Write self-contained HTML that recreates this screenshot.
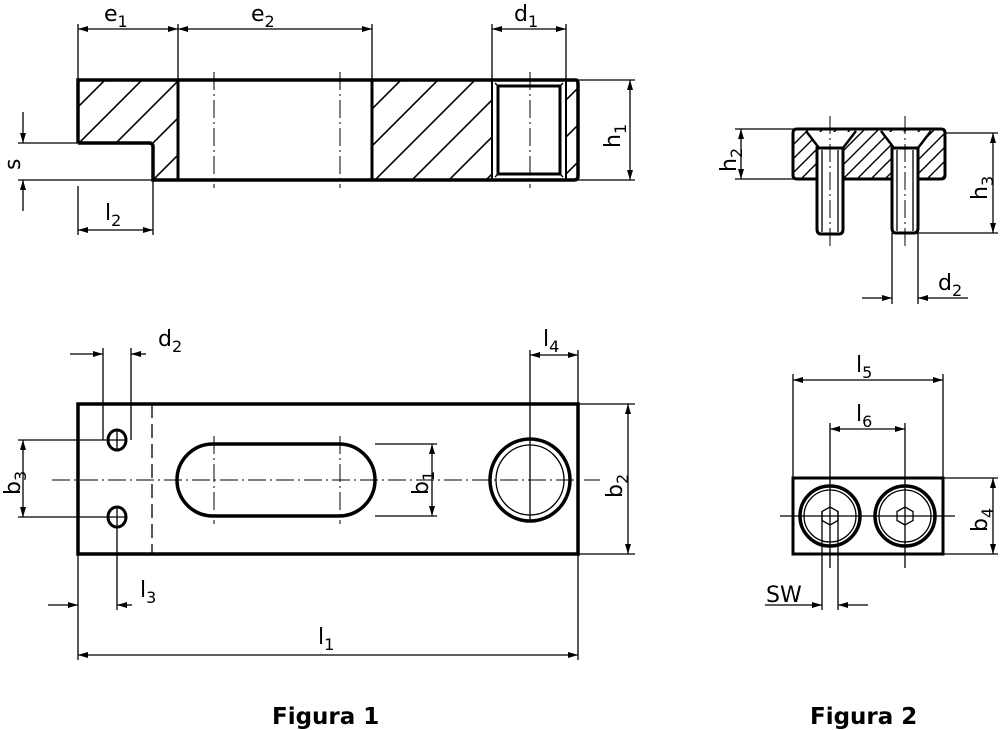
<!DOCTYPE html>
<html><head><meta charset="utf-8"><style>
html,body{margin:0;padding:0;background:#fff}
svg{display:block}
text{font-family:"DejaVu Sans","Liberation Sans",sans-serif;fill:#000}
.t{font-size:22px}
.s{font-size:16px}
</style></head><body>
<svg width="1000" height="730" viewBox="0 0 1000 730" xmlns="http://www.w3.org/2000/svg">
<defs>
<pattern id="h" width="37" height="37" patternUnits="userSpaceOnUse">
<path d="M0,37 L37,0 M-10,10 L10,-10 M27,47 L47,27" stroke="#000" stroke-width="1.6"/>
</pattern>
<pattern id="h2" width="14" height="14" patternUnits="userSpaceOnUse">
<path d="M0,14 L14,0 M-5,5 L5,-5 M9,19 L19,9" stroke="#000" stroke-width="1.4"/>
</pattern>
<marker id="a" viewBox="0 0 10 6" refX="10" refY="3" markerWidth="10" markerHeight="6" orient="auto-start-reverse" markerUnits="userSpaceOnUse"><path d="M0,0 L10,3 L0,6 Z" fill="#000"/></marker>
</defs>
<g fill="none" stroke="#000" stroke-width="1.3">
<path d="M78,80 H178 V180 H153 V143 H78 Z" fill="url(#h)" stroke="none"/>
<rect x="372" y="80" width="120" height="100" fill="url(#h)" stroke="none"/>
<rect x="566" y="80" width="12" height="100" fill="url(#h)" stroke="none"/>
<path d="M78,143 V80 H576 Q578,80 578,84 V176 Q578,180 574,180 H153 V147 Q153,143 149,143 H78" stroke-width="3.5"/>
<line x1="178" y1="80" x2="178" y2="180" stroke-width="3"/>
<line x1="372" y1="80" x2="372" y2="180" stroke-width="3"/>
<line x1="492" y1="80" x2="492" y2="180" stroke-width="2"/>
<line x1="566" y1="80" x2="566" y2="180" stroke-width="2"/>
<rect x="498" y="86" width="62" height="88" stroke-width="3"/>
<line x1="495" y1="83" x2="498" y2="86"/><line x1="563" y1="83" x2="560" y2="86"/>
<line x1="495" y1="177" x2="498" y2="174"/><line x1="563" y1="177" x2="560" y2="174"/>
<g stroke-dasharray="18,4,2,4" stroke-width="1">
<line x1="214" y1="72" x2="214" y2="188"/><line x1="340" y1="72" x2="340" y2="188"/><line x1="530" y1="72" x2="530" y2="188"/>
</g>
<line x1="78" y1="24" x2="78" y2="80"/><line x1="178" y1="24" x2="178" y2="80"/><line x1="372" y1="24" x2="372" y2="80"/>
<line x1="492" y1="24" x2="492" y2="80"/><line x1="566" y1="24" x2="566" y2="80"/>
<line x1="78" y1="29" x2="178" y2="29" marker-start="url(#a)" marker-end="url(#a)"/>
<line x1="178" y1="29" x2="372" y2="29" marker-start="url(#a)" marker-end="url(#a)"/>
<line x1="492" y1="29" x2="566" y2="29" marker-start="url(#a)" marker-end="url(#a)"/>
<line x1="578" y1="80" x2="635" y2="80"/><line x1="578" y1="180" x2="635" y2="180"/>
<line x1="630" y1="80" x2="630" y2="180" marker-start="url(#a)" marker-end="url(#a)"/>
<line x1="18" y1="143" x2="78" y2="143"/><line x1="18" y1="180" x2="153" y2="180"/>
<line x1="23" y1="112" x2="23" y2="143" marker-end="url(#a)"/>
<line x1="23" y1="211" x2="23" y2="180" marker-end="url(#a)"/>
<line x1="78" y1="186" x2="78" y2="235"/><line x1="153" y1="180" x2="153" y2="235"/>
<line x1="78" y1="230" x2="153" y2="230" marker-start="url(#a)" marker-end="url(#a)"/>

<path d="M793,129 H945 V179 H793 Z M806,132 L819,148 H843 L856,132 Z M881,132 L894,148 H918 L931,132 Z" fill="url(#h2)" fill-rule="evenodd" stroke="none"/>
<path d="M797,129 H941 Q945,129 945,133 V175 Q945,179 941,179 H797 Q793,179 793,175 V133 Q793,129 797,129 Z" stroke-width="3"/>
<path d="M806,131 L819,148 M856,131 L843,148 M881,131 L894,148 M931,131 L918,148" stroke-width="2.5"/>
<path d="M817,148 V229 Q817,234 821,234 H839 Q843,234 843,229 V148 Z" fill="#fff" stroke-width="3"/>
<path d="M892,148 V228 Q892,233 896,233 H914 Q918,233 918,228 V148 Z" fill="#fff" stroke-width="3"/>
<line x1="822" y1="150" x2="822" y2="232"/><line x1="838" y1="150" x2="838" y2="232"/>
<line x1="897" y1="150" x2="897" y2="231"/><line x1="913" y1="150" x2="913" y2="231"/>
<g stroke-dasharray="18,4,2,4" stroke-width="1">
<line x1="830" y1="116" x2="830" y2="246"/><line x1="905" y1="116" x2="905" y2="246"/>
</g>
<line x1="735" y1="129" x2="793" y2="129"/><line x1="735" y1="179" x2="793" y2="179"/>
<line x1="741" y1="129" x2="741" y2="179" marker-start="url(#a)" marker-end="url(#a)"/>
<line x1="945" y1="133" x2="998" y2="133"/><line x1="918" y1="233" x2="998" y2="233"/>
<line x1="993" y1="133" x2="993" y2="233" marker-start="url(#a)" marker-end="url(#a)"/>
<line x1="892" y1="233" x2="892" y2="304"/><line x1="918" y1="233" x2="918" y2="304"/>
<line x1="862" y1="298" x2="892" y2="298" marker-end="url(#a)"/>
<line x1="968" y1="298" x2="918" y2="298" marker-end="url(#a)"/>

<rect x="78" y="404" width="500" height="150" stroke-width="3.5"/>
<line x1="152" y1="404" x2="152" y2="554" stroke-dasharray="14,6" stroke-width="1.3"/>
<rect x="177" y="444" width="198" height="72" rx="36" ry="36" stroke-width="3.5"/>
<ellipse cx="117" cy="440" rx="9" ry="10" stroke-width="3"/>
<ellipse cx="117" cy="517" rx="9" ry="10" stroke-width="3"/>
<ellipse cx="530" cy="480" rx="40" ry="41" stroke-width="3.5"/>
<ellipse cx="530" cy="480" rx="34" ry="35" stroke-width="1.3"/>
<g stroke-dasharray="18,4,2,4" stroke-width="1">
<line x1="52" y1="480" x2="600" y2="480"/>
<line x1="214" y1="436" x2="214" y2="524"/><line x1="340" y1="436" x2="340" y2="524"/>
</g>
<line x1="108" y1="440" x2="126" y2="440"/><line x1="117" y1="431" x2="117" y2="449"/>
<line x1="108" y1="517" x2="126" y2="517"/><line x1="117" y1="508" x2="117" y2="610"/>
<line x1="530" y1="350" x2="530" y2="520"/>
<line x1="375" y1="444" x2="437" y2="444"/><line x1="375" y1="516" x2="437" y2="516"/>
<line x1="432" y1="444" x2="432" y2="516" marker-start="url(#a)" marker-end="url(#a)"/>
<line x1="578" y1="404" x2="635" y2="404"/><line x1="578" y1="554" x2="635" y2="554"/>
<line x1="628" y1="404" x2="628" y2="554" marker-start="url(#a)" marker-end="url(#a)"/>
<line x1="18" y1="440" x2="108" y2="440"/><line x1="18" y1="517" x2="108" y2="517"/>
<line x1="23" y1="440" x2="23" y2="517" marker-start="url(#a)" marker-end="url(#a)"/>
<line x1="103" y1="348" x2="103" y2="440"/><line x1="131" y1="348" x2="131" y2="440"/>
<line x1="70" y1="354" x2="103" y2="354" marker-end="url(#a)"/>
<line x1="146" y1="354" x2="131" y2="354" marker-end="url(#a)"/>
<line x1="578" y1="350" x2="578" y2="404"/>
<line x1="530" y1="355" x2="578" y2="355" marker-start="url(#a)" marker-end="url(#a)"/>
<line x1="78" y1="554" x2="78" y2="660"/><line x1="578" y1="554" x2="578" y2="660"/>
<line x1="48" y1="605" x2="78" y2="605" marker-end="url(#a)"/>
<line x1="132" y1="605" x2="117" y2="605" marker-end="url(#a)"/>
<line x1="78" y1="655" x2="578" y2="655" marker-start="url(#a)" marker-end="url(#a)"/>

<rect x="793" y="478" width="150" height="76" stroke-width="3"/>
<circle cx="830" cy="516" r="30" stroke-width="3.5"/><circle cx="830" cy="516" r="26"/>
<circle cx="905" cy="516" r="30" stroke-width="3.5"/><circle cx="905" cy="516" r="26"/>
<polygon points="830,507 838,511.5 838,520.5 830,525 822,520.5 822,511.5"/>
<polygon points="905,507 913,511.5 913,520.5 905,525 897,520.5 897,511.5"/>
<line x1="780" y1="516" x2="955" y2="516"/>
<line x1="830" y1="423" x2="830" y2="568"/><line x1="905" y1="423" x2="905" y2="568"/>
<line x1="793" y1="374" x2="793" y2="478"/><line x1="943" y1="374" x2="943" y2="478"/>
<line x1="793" y1="380" x2="943" y2="380" marker-start="url(#a)" marker-end="url(#a)"/>
<line x1="830" y1="429" x2="905" y2="429" marker-start="url(#a)" marker-end="url(#a)"/>
<line x1="943" y1="478" x2="998" y2="478"/><line x1="943" y1="554" x2="998" y2="554"/>
<line x1="993" y1="478" x2="993" y2="554" marker-start="url(#a)" marker-end="url(#a)"/>
<line x1="822" y1="511" x2="822" y2="610"/><line x1="838" y1="511" x2="838" y2="610"/>
<line x1="765" y1="605" x2="822" y2="605" marker-end="url(#a)"/>
<line x1="868" y1="605" x2="838" y2="605" marker-end="url(#a)"/>
</g>
<g class="t">
<text x="104" y="21">e<tspan class="s" dy="6">1</tspan></text>
<text x="251" y="21">e<tspan class="s" dy="6">2</tspan></text>
<text x="514" y="21">d<tspan class="s" dy="6">1</tspan></text>
<text x="105" y="220">l<tspan class="s" dy="6">2</tspan></text>
<text x="158" y="346">d<tspan class="s" dy="6">2</tspan></text>
<text x="543" y="346">l<tspan class="s" dy="6">4</tspan></text>
<text x="140" y="597">l<tspan class="s" dy="6">3</tspan></text>
<text x="318" y="644">l<tspan class="s" dy="6">1</tspan></text>
<text x="938" y="290">d<tspan class="s" dy="6">2</tspan></text>
<text x="856" y="372">l<tspan class="s" dy="6">5</tspan></text>
<text x="856" y="421">l<tspan class="s" dy="6">6</tspan></text>
<text x="766" y="602">SW</text>
<text transform="translate(20,170) rotate(-90)">s</text>
<text transform="translate(620,148) rotate(-90)">h<tspan class="s" dy="6">1</tspan></text>
<text transform="translate(736,172) rotate(-90)">h<tspan class="s" dy="6">2</tspan></text>
<text transform="translate(987,200) rotate(-90)">h<tspan class="s" dy="6">3</tspan></text>
<text transform="translate(20,495) rotate(-90)">b<tspan class="s" dy="6">3</tspan></text>
<text transform="translate(428,495) rotate(-90)">b<tspan class="s" dy="6">1</tspan></text>
<text transform="translate(622,498) rotate(-90)">b<tspan class="s" dy="6">2</tspan></text>
<text transform="translate(987,532) rotate(-90)">b<tspan class="s" dy="6">4</tspan></text>
</g>
<text x="272" y="724" style="font-size:23px;font-weight:bold">Figura 1</text>
<text x="810" y="724" style="font-size:23px;font-weight:bold">Figura 2</text>
</svg>
</body></html>
